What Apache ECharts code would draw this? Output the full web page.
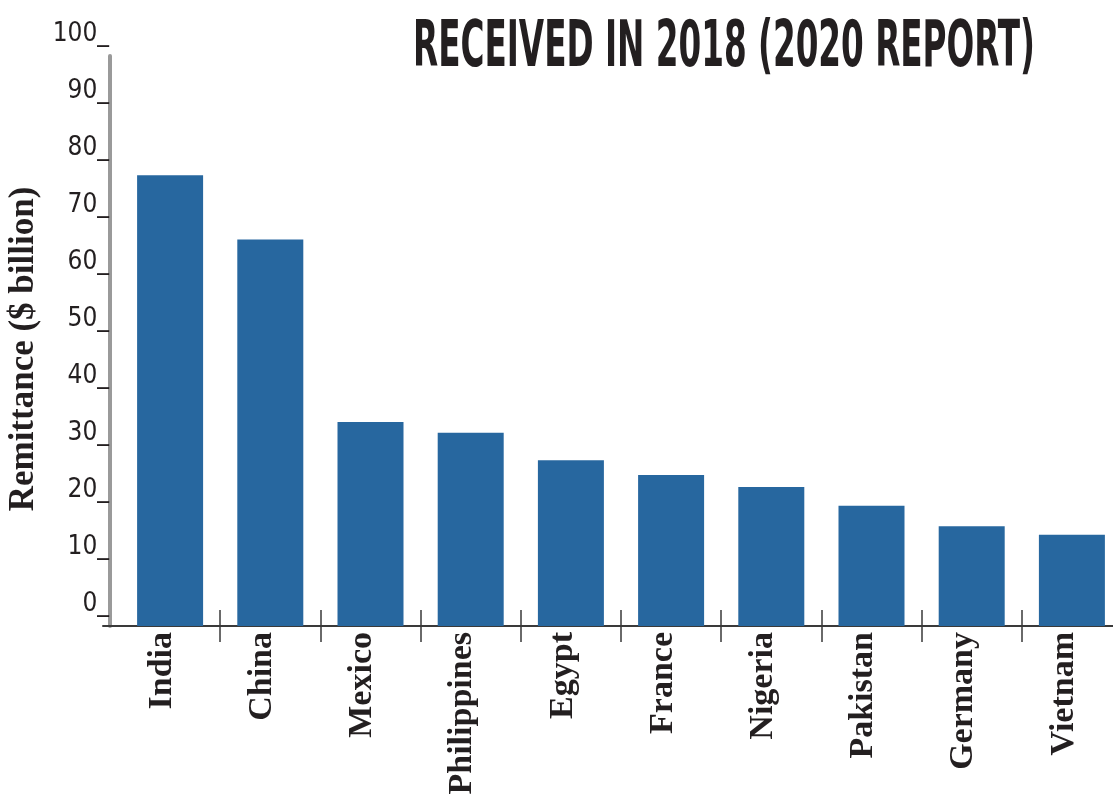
<!DOCTYPE html>
<html>
<head>
<meta charset="utf-8">
<script src="https://cdn.jsdelivr.net/npm/echarts@6/dist/echarts.min.js"></script>
<style>
  html, body { margin: 0; padding: 0; background: #fff; }
  #chart { width: 1113px; height: 808px; }
</style>
</head>
<body>
<div id="chart"></div>
<script>
// data ($ billion, received in 2018)
const categories = ['India', 'China', 'Mexico', 'Philippines', 'Egypt', 'France', 'Nigeria', 'Pakistan', 'Germany', 'Vietnam'];
const remittance = [79.1, 67.8, 35.8, 33.9, 29.1, 26.5, 24.4, 21.1, 17.5, 16.0];
const yMin = 0;
const yMax = 100;
const yStep = 10;
const separators = [1, 2, 3, 4, 5, 6, 7, 8, 9]; // ticks between the bars
const titleText = 'RECEIVED IN 2018 (2020 REPORT)';
const yName = 'Remittance ($ billion)';

const ink = '#231f20';
const condensed = '"Liberation Sans Narrow", "DejaVu Sans Condensed", "Roboto Condensed", sans-serif';
const serif = '"Liberation Serif", "DejaVu Serif", serif';

// squeeze the title into its box
const titleSize = 64;
const ctx = document.createElement('canvas').getContext('2d');
ctx.font = 'bold ' + titleSize + 'px ' + condensed;
const titleScale = 622 / ctx.measureText(titleText).width;

const myChart = echarts.init(document.getElementById('chart'));

// decorative axis used only for the tick marks between bars
function sepAxis(inside) {
    return {
        type: 'value',
        gridIndex: 0,
        min: 0,
        max: categories.length,
        position: 'bottom',
        axisLine: { show: false },
        axisLabel: { show: false },
        splitLine: { show: false },
        axisTick: {
            show: true,
            inside: inside,
            length: 16,
            customValues: separators,
            lineStyle: { color: '#3a3a3a', width: 1.5 }
        }
    };
}

const gridV = { top: 56, bottom: 182, outerBoundsMode: 'none' };

const option = {
    backgroundColor: '#fff',
    animation: false,
    grid: [
        Object.assign({ left: 120, right: -9 }, gridV),  // bars
        Object.assign({ left: 103, right: 0 }, gridV),   // x axis line
        Object.assign({ left: 110, right: 0 }, gridV)    // y axis
    ],
    graphic: [
        {
            type: 'text',
            x: 413,
            y: 49,
            scaleX: titleScale,
            style: {
                text: titleText,
                font: 'bold ' + titleSize + 'px ' + condensed,
                fill: ink,
                textAlign: 'left',
                textVerticalAlign: 'middle'
            }
        }
    ],
    xAxis: [
        {
            type: 'category',
            gridIndex: 0,
            data: categories,
            axisLine: { show: false },
            axisTick: { show: false },
            axisLabel: {
                rotate: 90,
                margin: 6,
                interval: 0,
                color: ink,
                fontFamily: serif,
                fontWeight: 'bold',
                fontSize: 34,
                verticalAlign: 'bottom',
                lineHeight: 16
            }
        },
        sepAxis(true),
        sepAxis(false),
        {
            type: 'value',
            gridIndex: 1,
            min: 0,
            max: 1,
            axisLine: { show: true, lineStyle: { color: '#3a3a3a', width: 2 } },
            axisTick: { show: false },
            axisLabel: { show: false },
            splitLine: { show: false }
        },
        { type: 'value', gridIndex: 2, show: false, min: 0, max: 1 }
    ],
    yAxis: [
        { type: 'value', gridIndex: 0, show: false, min: yMin, max: yMax },
        { type: 'value', gridIndex: 1, show: false, min: 0, max: 1 },
        {
            type: 'value',
            gridIndex: 2,
            min: yMin,
            max: yMax,
            interval: yStep,
            name: yName,
            nameLocation: 'middle',
            nameGap: 64,
            nameTextStyle: {
                color: ink,
                fontFamily: serif,
                fontWeight: 'bold',
                fontSize: 35,
                padding: [0, 16, 0, 0]
            },
            axisLine: { show: true, lineStyle: { color: '#9a9a9a', width: 4 } },
            axisTick: { show: false },
            splitLine: { show: false },
            axisLabel: {
                margin: 1,
                color: ink,
                fontFamily: condensed,
                fontSize: 26,
                verticalAlign: 'bottom',
                lineHeight: 44,
                formatter: function (v) { return v + '_'; }
            }
        }
    ],
    series: [
        {
            type: 'bar',
            xAxisIndex: 0,
            yAxisIndex: 0,
            data: remittance,
            barWidth: 66,
            itemStyle: { color: '#27679f' }
        }
    ]
};

myChart.setOption(option);
</script>
</body>
</html>
